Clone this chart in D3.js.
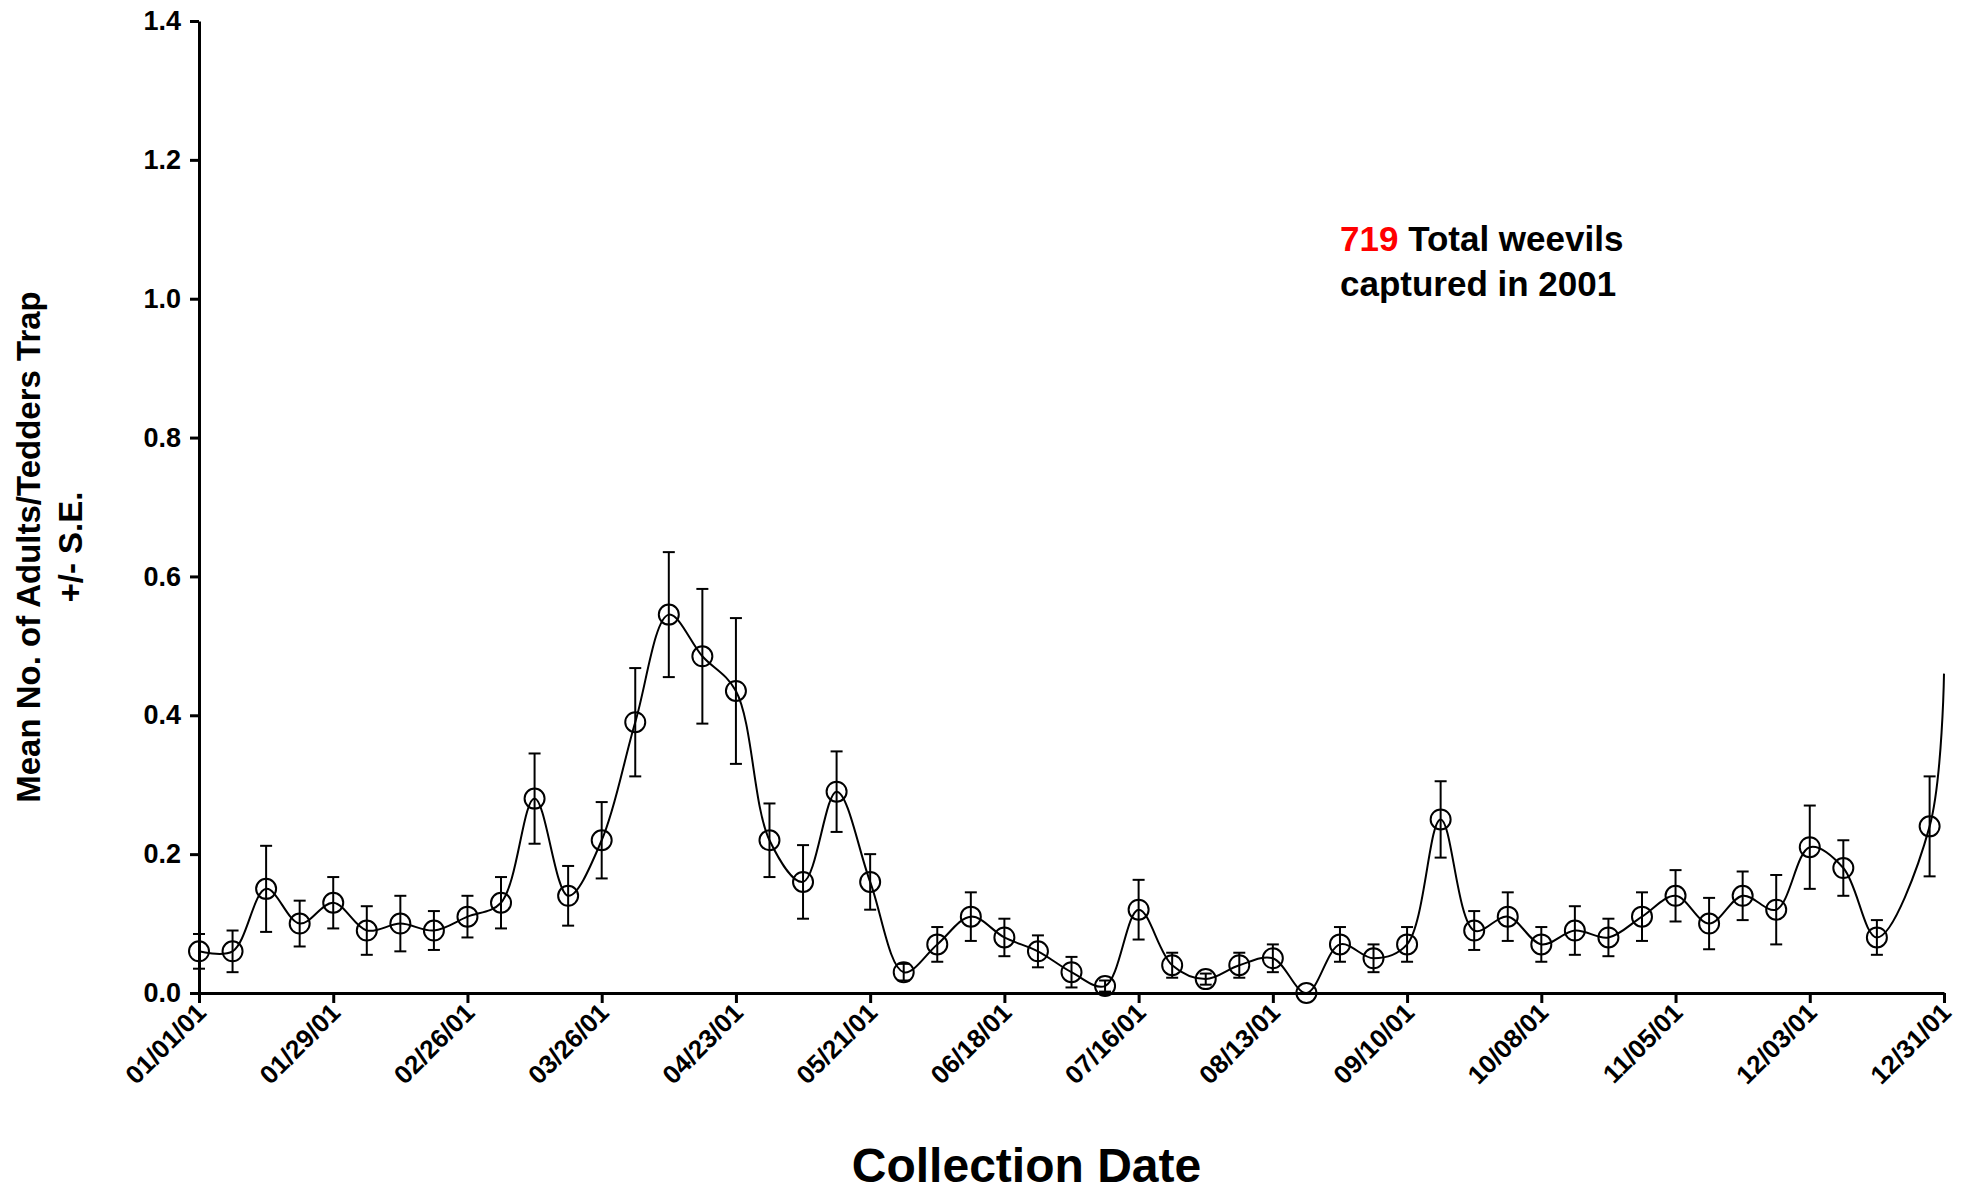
<!DOCTYPE html>
<html lang="en">
<head>
<meta charset="UTF-8">
<script src="https://d3js.org/d3.v7.min.js"></script>
<style>
  body { margin: 0; background: #fff; }
  text { font-family: "Liberation Sans", Arial, sans-serif; font-weight: bold; }
</style>
</head>
<body>
<svg width="1965" height="1194"></svg>
<script>
// day offsets from 01/01/01
const days = [0,7,14,21,28,35,42,49,56,63,70,77,84,91,98,105,112,119,126,133,140,147,154,161,168,175,182,189,196,203,210,217,224,231,238,245,252,259,266,273,280,287,294,301,308,315,322,329,336,343,350,361];
const means = [0.06,0.06,0.15,0.10,0.13,0.09,0.10,0.09,0.11,0.13,0.28,0.14,0.22,0.39,0.545,0.485,0.435,0.22,0.16,0.29,0.16,0.03,0.07,0.11,0.08,0.06,0.03,0.01,0.12,0.04,0.02,0.04,0.05,0.00,0.07,0.05,0.07,0.25,0.09,0.11,0.07,0.09,0.08,0.11,0.14,0.10,0.14,0.12,0.21,0.18,0.08,0.24];
const se = [0.025,0.03,0.062,0.033,0.037,0.035,0.04,0.028,0.03,0.037,0.065,0.043,0.055,0.078,0.09,0.097,0.105,0.053,0.053,0.058,0.04,0.012,0.025,0.035,0.027,0.023,0.022,0.008,0.043,0.018,0.008,0.018,0.02,0,0.025,0.02,0.025,0.055,0.028,0.035,0.025,0.035,0.027,0.035,0.037,0.037,0.035,0.05,0.06,0.04,0.025,0.072];
// smoothed line runs on past the last point to the axis end
const tailDay = [364];
const tailValue = [0.46];
const tickLabels = ["01/01/01","01/29/01","02/26/01","03/26/01","04/23/01","05/21/01","06/18/01","07/16/01","08/13/01","09/10/01","10/08/01","11/05/01","12/03/01","12/31/01"];
const yTicks = [0,0.2,0.4,0.6,0.8,1.0,1.2,1.4];

const svg = d3.select("svg");
const L = 199, R = 1944, T = 21, B = 993;
const x = d3.scaleLinear().domain([0, 364]).range([L, R]);
const y = d3.scaleLinear().domain([0, 1.4]).range([B, T]);

// y axis
svg.append("g").attr("transform", `translate(${L},0)`)
  .call(d3.axisLeft(y).tickValues(yTicks).tickFormat(d3.format(".1f")).tickSize(9).tickSizeOuter(0))
  .call(g => g.select(".domain").attr("stroke-width", 3))
  .call(g => g.selectAll(".tick line").attr("stroke-width", 3))
  .call(g => g.selectAll("text").attr("font-size", 27).attr("dx", -6).style("font-weight", "bold").attr("font-family", "Liberation Sans, Arial"));

// x axis
svg.append("g").attr("transform", `translate(0,${B})`)
  .call(d3.axisBottom(x).tickValues(d3.range(0, 365, 28)).tickFormat((d, i) => tickLabels[i]).tickSize(10).tickSizeOuter(0))
  .call(g => g.select(".domain").attr("stroke-width", 3))
  .call(g => g.selectAll(".tick line").attr("stroke-width", 3))
  .call(g => g.selectAll("text").attr("font-size", 26).style("font-weight", "bold").attr("font-family", "Liberation Sans, Arial")
    .attr("text-anchor", "end").attr("transform", "rotate(-45)").attr("dx", "-0.35em").attr("dy", "0.3em"));

// line
const pts = days.map((d, i) => [x(d), y(means[i])]).concat(tailDay.map((d, i) => [x(d), y(tailValue[i])]));
svg.append("path").attr("d", d3.line().curve(d3.curveCatmullRom.alpha(0.5))(pts))
  .attr("fill", "none").attr("stroke", "#000").attr("stroke-width", 2);

// error bars
const eb = svg.append("g").attr("stroke", "#000").attr("stroke-width", 2);
days.forEach((d, i) => {
  if (!se[i]) return;
  const cx = x(d);
  eb.append("line").attr("x1", cx).attr("x2", cx).attr("y1", y(means[i] - se[i])).attr("y2", y(means[i] + se[i]));
  [means[i] - se[i], means[i] + se[i]].forEach(v =>
    eb.append("line").attr("x1", cx - 6).attr("x2", cx + 6).attr("y1", y(v)).attr("y2", y(v)));
});

// markers
svg.append("g").selectAll("circle").data(days).join("circle")
  .attr("cx", d => x(d)).attr("cy", (d, i) => y(means[i])).attr("r", 10)
  .attr("fill", "none").attr("stroke", "#000").attr("stroke-width", 2);

// annotation
const ann = svg.append("text").attr("x", 1340).attr("y", 251).attr("font-size", 35);
ann.append("tspan").attr("fill", "#ff0000").text("719");
ann.append("tspan").attr("fill", "#000").text(" Total weevils");
svg.append("text").attr("x", 1340).attr("y", 296).attr("font-size", 35).text("captured in 2001");

// axis titles
svg.append("text").attr("x", (L + R) / 2 - 45).attr("y", 1182).attr("text-anchor", "middle").attr("font-size", 48).text("Collection Date");
const yt = svg.append("text").attr("transform", `translate(40,${(T + B) / 2 + 40}) rotate(-90)`).attr("text-anchor", "middle").attr("font-size", 33);
yt.append("tspan").attr("x", 0).attr("dy", 0).text("Mean No. of Adults/Tedders Trap");
yt.append("tspan").attr("x", 0).attr("dy", 42).text("+/- S.E.");
</script>
</body>
</html>
